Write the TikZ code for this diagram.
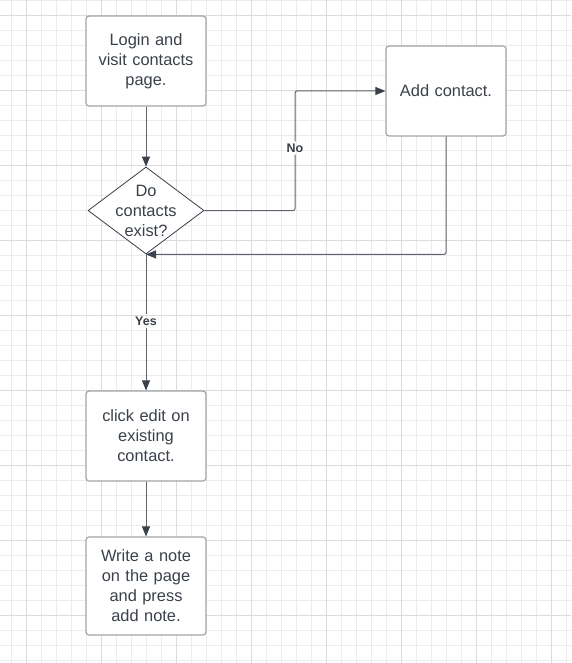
\documentclass[tikz,border=0pt]{standalone}
\usepackage{fontspec}
\setmainfont{Liberation Sans}
\usetikzlibrary{shapes.geometric, arrows.meta, positioning}
\definecolor{gridminor}{RGB}{236,236,236}
\definecolor{gridmajor}{RGB}{220,220,220}
\definecolor{boxgray}{RGB}{160,164,170}
\definecolor{inkgray}{RGB}{58,65,74}
\definecolor{linegray}{RGB}{95,101,110}

\tikzset{
    stepbox/.style={draw=boxgray, line width=1.2pt, rounded corners=3pt, fill=white,
        minimum width=120pt, minimum height=90pt, text width=112pt, align=center,
        inner sep=0pt, text=inkgray, font=\fontsize{16.4}{20}\selectfont},
    decision/.style={diamond, draw=inkgray, line width=0.8pt, fill=white,
        minimum width=116pt, minimum height=87pt, aspect=1.333, inner sep=-7pt,
        align=center, text=inkgray, font=\fontsize{16.4}{20}\selectfont},
    link/.style={draw=linegray, line width=1pt, rounded corners=2pt,
        -{Triangle[length=10pt, width=8pt, color=inkgray]}},
    lbl/.style={inner sep=2pt, text=inkgray, font=\fontsize{12.5}{14}\selectfont\bfseries}
}

\begin{document}
\begin{tikzpicture}[x=1pt, y=-1pt]
    \useasboundingbox (0,0) rectangle (571,663);
    \fill[white] (0,0) rectangle (571,663);
    % Background grid
    \foreach \i in {0,...,37} {
        \draw[gridminor, line width=1pt] ({11.7+15*\i},0) -- ({11.7+15*\i},663);
    }
    \foreach \i in {0,...,44} {
        \draw[gridminor, line width=1pt] (0,{0.3+15*\i}) -- (571,{0.3+15*\i});
    }
    \foreach \x in {26.7,101.7,...,551.7} {
        \draw[gridmajor, line width=1pt] (\x,0) -- (\x,663);
    }
    \foreach \y in {15.3,90.3,...,615.3} {
        \draw[gridmajor, line width=1pt] (0,\y) -- (571,\y);
    }

    % Flow diagram
    \node[stepbox] (login) at (146,61) {Login and\\visit contacts\\page.};
    \node[decision] (exists) at (146,210.5) {Do\\contacts\\exist?};
    \node[stepbox] (addcontact) at (446,91) {Add contact.};
    \node[stepbox] (edit) at (146,436) {click edit on\\existing\\contact.};
    \node[stepbox, minimum height=98pt] (note) at (146,586) {Write a note\\on the page\\and press\\add note.};

    \node[lbl] (no) at (295,148) {No};
    \node[lbl] (yes) at (146,321) {Yes};

    \draw[link] (login) -- (exists);
    \draw[link] (exists.east) -| (no) |- (addcontact.west);
    \draw[link] (addcontact.south) |- (exists.south);
    \draw[link] (exists.south) -- (yes) -- (edit);
    \draw[link] (edit) -- (note);
\end{tikzpicture}
\end{document}
